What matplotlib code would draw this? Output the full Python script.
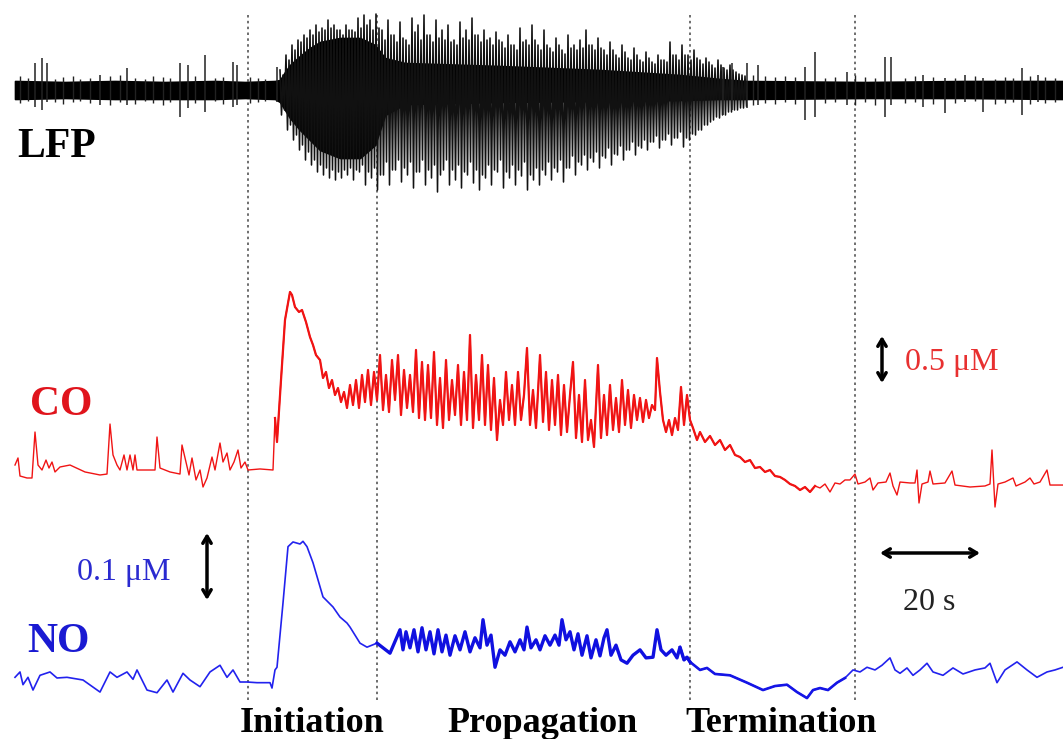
import numpy as np
import matplotlib.pyplot as plt

# time in s, CO / NO in uM, LFP in arbitrary units
co_points = [
    (0, 0.053), (0.6, 0.128), (1, -0.064), (2.4, -0.085), (3.4, -0.085), (4, 0.404),
    (4.6, 0.053), (5.4, 0), (6.2, 0.106), (6.8, 0.021), (7.4, 0.085), (8, -0.021),
    (9, 0.032), (11, 0.053), (14, -0.021), (17, -0.053), (18.4, -0.043), (19, 0.489),
    (19.6, 0.16), (20.4, 0.053), (21, 0), (21.8, 0.16), (22.4, 0), (23, 0.16),
    (23.6, 0), (24, 0.16), (24.4, 0), (26, 0), (28, 0), (28.4, 0.351), (29, 0.021),
    (31, -0.021), (33, -0.043), (33.4, 0.266), (34.2, 0.085), (34.8, -0.053),
    (35.4, 0.128), (36.2, -0.106), (37, 0), (37.6, -0.181), (38.4, -0.085),
    (39.4, 0.138), (40, 0), (41, 0.287), (41.6, 0.085), (42.4, 0.181), (43, 0),
    (43.8, 0.085), (44.6, 0.213), (45.2, 0.021), (46, 0.085), (46.6, 0), (49, 0.011),
    (51.6, 0), (52, 0.553), (52.4, 0.298), (53.2, 0.957), (54, 1.596), (55, 1.894),
    (55.4, 1.862), (56, 1.734), (56.8, 1.681), (57.4, 1.702), (58.2, 1.574),
    (59, 1.415), (59.6, 1.33), (60.2, 1.223), (61, 1.17), (61.6, 0.979), (62.2, 1.043),
    (62.8, 0.872), (63.4, 0.957), (64, 0.798), (64.6, 0.872), (65.2, 0.723),
    (65.8, 0.83), (66.4, 0.66), (67, 0.904), (67.6, 0.691), (68.2, 0.957), (68.8, 0.66),
    (69.4, 1.011), (70, 0.723), (70.6, 1.064), (71.2, 0.691), (71.8, 1.043),
    (72.4, 0.745), (73, 1.223), (73.6, 0.638), (74.2, 1.011), (74.8, 0.617),
    (75.4, 1.17), (76, 0.745), (76.6, 1.223), (77.2, 0.585), (77.8, 1.064), (78.4, 0.66),
    (79, 1.011), (79.6, 0.617), (80.2, 1.277), (80.8, 0.553), (81.4, 1.149), (82, 0.532),
    (82.6, 1.117), (83.2, 0.553), (83.8, 1.255), (84.4, 0.479), (85, 0.979),
    (85.6, 0.447), (86.2, 1.17), (86.8, 0.532), (87.4, 0.957), (88, 0.585),
    (88.6, 1.117), (89.2, 0.479), (89.8, 1.043), (90.4, 0.532), (91, 1.436),
    (91.6, 0.447), (92.2, 1.011), (92.8, 0.532), (93.4, 1.223), (94, 0.479),
    (94.6, 1.117), (95.2, 0.426), (95.8, 0.979), (96.4, 0.319), (97, 0.745),
    (97.6, 0.479), (98.2, 1.043), (98.8, 0.532), (99.4, 0.904), (100, 0.479),
    (100.6, 1.043), (101.2, 0.532), (101.8, 0.798), (102.4, 1.298), (103, 0.479),
    (103.6, 0.851), (104.2, 0.447), (105, 1.223), (105.6, 0.511), (106.2, 1.043),
    (106.8, 0.426), (107.4, 0.957), (108, 0.479), (108.6, 1.011), (109.2, 0.372),
    (109.8, 0.904), (110.4, 0.404), (111, 0.798), (111.6, 1.149), (112.2, 0.34),
    (112.8, 0.798), (113.4, 0.298), (114, 0.957), (114.6, 0.319), (115.2, 0.532),
    (115.8, 0.245), (116.6, 1.117), (117.2, 0.34), (117.8, 0.798), (118.4, 0.372),
    (119, 0.904), (119.6, 0.426), (120.2, 0.766), (120.8, 0.404), (121.4, 0.957),
    (122, 0.479), (122.6, 0.851), (123.2, 0.447), (123.8, 0.798), (124.4, 0.532),
    (125, 0.766), (125.6, 0.511), (126.2, 0.745), (126.8, 0.553), (127.4, 0.691),
    (128, 0.638), (128.4, 1.191), (129, 0.83), (129.6, 0.532), (130.2, 0.404),
    (130.8, 0.532), (131.4, 0.372), (132, 0.553), (132.6, 0.426), (133.2, 0.883),
    (133.8, 0.479), (134.4, 0.798), (135, 0.532), (135.6, 0.447), (136.4, 0.319),
    (137, 0.404), (138, 0.298), (139, 0.362), (140, 0.266), (141, 0.319), (142, 0.213),
    (143, 0.266), (144, 0.16), (145, 0.138), (146, 0.085), (147, 0.106), (148, 0.021),
    (149, 0.032), (150, -0.021), (151, 0), (152, -0.064), (153, -0.074), (154, -0.106),
    (155, -0.149), (156, -0.17), (157, -0.213), (158, -0.181), (159, -0.234),
    (160, -0.17), (161, -0.191), (162, -0.149), (163, -0.234), (164, -0.138),
    (165, -0.149), (166, -0.106), (167, -0.106), (168, -0.043), (168.6, -0.149),
    (170, -0.128), (171, -0.085), (171.6, -0.213), (172.6, -0.138), (174.2, -0.128),
    (175, -0.032), (175.6, -0.17), (176.4, -0.266), (177, -0.128), (179, -0.138),
    (180, -0.138), (180.4, 0), (180.8, -0.351), (181.4, -0.149), (182.6, -0.128),
    (183, -0.011), (183.6, -0.149), (186, -0.138), (187.4, -0.011), (188, -0.16),
    (191, -0.181), (194, -0.17), (195, -0.149), (195.4, 0.213), (196, -0.394),
    (196.6, -0.149), (198, -0.128), (199.6, -0.085), (200.2, -0.17), (202, -0.128),
    (203, -0.085), (203.8, -0.149), (205, -0.128), (206.4, 0), (207, -0.16),
    (209.6, -0.16),
]

no_points = [
    (0, 0.004), (1, 0.012), (1.6, -0.007), (2.6, 0.004), (3.6, -0.015), (5, 0.007),
    (7, 0.012), (8.4, 0.003), (10.4, 0.004), (13.6, 0), (17, -0.018), (19, 0.012),
    (20.4, 0.004), (22.4, 0.012), (23.6, 0.001), (24.4, 0.015), (26.4, -0.015),
    (28.4, -0.019), (30.4, 0), (31.6, -0.018), (33.6, 0.01), (35, 0), (37, -0.01),
    (39, 0.012), (41, 0.022), (42.4, 0.004), (43.6, 0.015), (45, -0.003),
    (46.4, -0.003), (48.4, -0.004), (51, -0.004), (51.4, -0.012), (52, 0.015),
    (52.4, 0.019), (53.6, 0.115), (54.6, 0.199), (55.6, 0.206), (57, 0.203),
    (57.6, 0.207), (58.4, 0.199), (59.6, 0.175), (61.6, 0.124), (63.6, 0.109),
    (65, 0.094), (66.4, 0.085), (67, 0.079), (69, 0.055), (70.4, 0.049), (72.4, 0.055),
    (75, 0.04), (77, 0.075), (77.6, 0.045), (78.2, 0.072), (79, 0.048), (79.8, 0.075),
    (80.6, 0.042), (81.4, 0.078), (82.2, 0.045), (83, 0.072), (83.8, 0.039),
    (84.6, 0.075), (85.4, 0.042), (86.2, 0.067), (87, 0.037), (88, 0.066), (89, 0.045),
    (90, 0.072), (91, 0.042), (92, 0.063), (93, 0.048), (93.6, 0.09), (94.4, 0.052),
    (95.2, 0.067), (96, 0.019), (97, 0.045), (98, 0.037), (99, 0.057), (100, 0.042),
    (101, 0.06), (101.8, 0.045), (102.4, 0.079), (103.2, 0.048), (104.2, 0.06),
    (105, 0.045), (106, 0.066), (107, 0.052), (108, 0.067), (108.8, 0.052),
    (109.4, 0.09), (110.2, 0.06), (111, 0.072), (111.8, 0.045), (112.6, 0.069),
    (113.4, 0.037), (114.4, 0.066), (115.2, 0.033), (116.2, 0.06), (117, 0.036),
    (117.8, 0.063), (118.4, 0.075), (119.2, 0.037), (120.2, 0.052), (121.2, 0.03),
    (122.4, 0.025), (123.6, 0.037), (125, 0.045), (126.2, 0.033), (127.6, 0.034),
    (128.4, 0.075), (129.2, 0.045), (130.2, 0.037), (131.4, 0.045), (132.4, 0.033),
    (133, 0.049), (133.8, 0.03), (134.4, 0.034), (135, 0.027), (137, 0.015),
    (138.4, 0.018), (140, 0.009), (143, 0.007), (146.4, -0.004), (149.6, -0.015),
    (152, -0.009), (154.4, -0.007), (156.4, -0.018), (158.4, -0.027), (159.6, -0.015),
    (161, -0.012), (162.6, -0.015), (164.4, -0.004), (166, 0.003), (167.6, 0.015),
    (169, 0.012), (170.4, 0.019), (172, 0.015), (173.4, 0.022), (175, 0.033),
    (176, 0.015), (177, 0.01), (178.4, 0.018), (179.6, 0.007), (181, 0.015),
    (182.4, 0.025), (183.6, 0.012), (185.6, 0.007), (187.6, 0.018), (189.6, 0.009),
    (192, 0.015), (194, 0.018), (195, 0.025), (196.4, -0.004), (198, 0.015),
    (200.4, 0.027), (202.4, 0.015), (204.4, 0.004), (206.4, 0.012), (208, 0.015),
    (209.6, 0.019),
]

# LFP: solid core band (upper / lower edge)
lfp_env_t = [0, 10, 20, 30, 40, 46, 52, 53, 54, 55, 57, 59, 61, 65, 69, 72, 74,
             78, 97, 117, 133, 141, 146, 170, 190, 209.6]
lfp_env_hi = [0.09, 0.08, 0.09, 0.08, 0.09, 0.08, 0.09, 0.10, 0.18, 0.25, 0.34, 0.42,
              0.48, 0.52, 0.52, 0.45, 0.32, 0.27, 0.24, 0.20, 0.15, 0.11, 0.09, 0.08,
              0.09, 0.09]
lfp_env_lo = [-0.09, -0.08, -0.09, -0.09, -0.09, -0.08, -0.09, -0.12, -0.20, -0.28,
              -0.40, -0.50, -0.60, -0.68, -0.68, -0.55, -0.25, -0.14, -0.12, -0.11,
              -0.10, -0.09, -0.09, -0.08, -0.08, -0.09]

# LFP seizure discharges: two swings every 1.2 s from t = 53 s
burst_start, burst_step = 53.0, 1.2
lfp_burst_hi = [
    0.20, 0.35, 0.45, 0.50, 0.55, 0.60, 0.65, 0.62, 0.70, 0.65,
    0.60, 0.65, 0.60, 0.72, 0.75, 0.70, 0.76, 0.60, 0.70, 0.55,
    0.68, 0.50, 0.72, 0.65, 0.75, 0.55, 0.70, 0.60, 0.65, 0.50,
    0.68, 0.60, 0.72, 0.55, 0.60, 0.52, 0.58, 0.48, 0.55, 0.45,
    0.62, 0.50, 0.65, 0.45, 0.60, 0.42, 0.52, 0.40, 0.55, 0.45,
    0.50, 0.60, 0.45, 0.52, 0.40, 0.48, 0.35, 0.45, 0.32, 0.42,
    0.30, 0.38, 0.28, 0.35, 0.30, 0.48, 0.35, 0.45, 0.35, 0.40,
    0.30, 0.32, 0.25, 0.30, 0.22, 0.25, 0.18, 0.15]
lfp_burst_lo = [
    -0.25, -0.40, -0.50, -0.60, -0.70, -0.75, -0.82, -0.85, -0.88, -0.90,
    -0.88, -0.85, -0.90, -0.82, -0.95, -0.88, -1.00, -0.85, -0.95, -0.80,
    -0.92, -0.85, -0.98, -0.82, -0.95, -0.88, -1.02, -0.80, -0.95, -0.90,
    -0.98, -0.85, -0.93, -1.00, -0.88, -0.95, -0.82, -0.98, -0.88, -0.95,
    -0.86, -1.00, -0.90, -0.95, -0.85, -0.90, -0.82, -0.92, -0.78, -0.85,
    -0.75, -0.80, -0.72, -0.78, -0.68, -0.75, -0.65, -0.70, -0.60, -0.65,
    -0.58, -0.60, -0.52, -0.58, -0.50, -0.55, -0.48, -0.57, -0.50, -0.45,
    -0.40, -0.35, -0.30, -0.28, -0.25, -0.22, -0.20, -0.18]
lfp_burst2_hi = [
    0.15, 0.30, 0.40, 0.48, 0.52, 0.55, 0.58, 0.60, 0.62, 0.60,
    0.55, 0.60, 0.58, 0.62, 0.65, 0.60, 0.62, 0.50, 0.55, 0.48,
    0.52, 0.45, 0.58, 0.50, 0.55, 0.48, 0.52, 0.50, 0.48, 0.45,
    0.52, 0.50, 0.55, 0.48, 0.50, 0.45, 0.50, 0.42, 0.45, 0.40,
    0.48, 0.45, 0.50, 0.40, 0.45, 0.38, 0.45, 0.36, 0.42, 0.40,
    0.42, 0.45, 0.40, 0.42, 0.35, 0.40, 0.32, 0.38, 0.30, 0.35,
    0.28, 0.32, 0.26, 0.30, 0.28, 0.35, 0.30, 0.35, 0.30, 0.32,
    0.26, 0.28, 0.22, 0.25, 0.20, 0.20, 0.16, 0.14]
lfp_burst2_lo = [
    -0.20, -0.35, -0.45, -0.55, -0.62, -0.70, -0.75, -0.78, -0.80, -0.82,
    -0.80, -0.78, -0.80, -0.75, -0.82, -0.78, -0.85, -0.72, -0.80, -0.70,
    -0.78, -0.72, -0.82, -0.70, -0.80, -0.75, -0.85, -0.70, -0.80, -0.75,
    -0.82, -0.72, -0.80, -0.85, -0.75, -0.80, -0.70, -0.82, -0.75, -0.80,
    -0.72, -0.85, -0.78, -0.80, -0.72, -0.78, -0.70, -0.78, -0.66, -0.72,
    -0.65, -0.68, -0.62, -0.66, -0.58, -0.64, -0.56, -0.60, -0.52, -0.56,
    -0.50, -0.52, -0.46, -0.50, -0.44, -0.48, -0.42, -0.48, -0.44, -0.40,
    -0.35, -0.32, -0.27, -0.25, -0.22, -0.20, -0.18, -0.16]

# isolated interictal spikes
spike_t = [4, 5.4, 6.4, 17, 22.4, 33, 34.6, 38, 43.6, 44.4, 52.4, 141.6, 143.4,
           146.4, 148.6, 158, 160, 166.4, 174, 175.2, 181.6, 186, 190, 193.6, 201.4, 204.6]
spike_hi = [0.27, 0.32, 0.27, 0.15, 0.22, 0.27, 0.25, 0.35, 0.28, 0.25, 0.23, 0.23, 0.27,
            0.27, 0.25, 0.23, 0.38, 0.18, 0.33, 0.33, 0.15, 0.12, 0.15, 0.12, 0.22, 0.15]
spike_lo = [-0.17, -0.20, -0.12, -0.15, -0.15, -0.27, -0.18, -0.22, -0.17, -0.15, -0.12,
            -0.25, -0.20, -0.18, -0.15, -0.30, -0.27, -0.15, -0.27, -0.15, -0.17, -0.23,
            -0.12, -0.22, -0.25, -0.12]

# small background ripples on the baseline
ripple_t = [1, 2.5, 8, 9.5, 11.5, 13, 15, 19, 21, 24, 26, 27.5, 29.5, 31, 36, 40, 41.5,
            47, 48.5, 50, 147.5, 150, 152, 154, 156, 162, 164, 168, 170, 172, 178, 180,
            183.5, 188, 192, 196, 198, 199.5, 203, 206, 208]
ripple_hi = [0.14, 0.12, 0.11, 0.13, 0.14, 0.11, 0.12, 0.14, 0.15, 0.12, 0.11, 0.14, 0.13,
             0.12, 0.14, 0.12, 0.13, 0.13, 0.12, 0.11, 0.15, 0.14, 0.13, 0.14, 0.13, 0.12,
             0.13, 0.15, 0.13, 0.12, 0.12, 0.14, 0.13, 0.12, 0.14, 0.11, 0.13, 0.12, 0.14,
             0.13, 0.12]
ripple_lo = [-0.13, -0.11, -0.12, -0.14, -0.12, -0.11, -0.13, -0.15, -0.12, -0.14, -0.11,
             -0.13, -0.15, -0.12, -0.13, -0.11, -0.14, -0.13, -0.12, -0.11, -0.15, -0.13,
             -0.14, -0.12, -0.14, -0.13, -0.12, -0.15, -0.12, -0.15, -0.13, -0.12, -0.14,
             -0.13, -0.11, -0.14, -0.13, -0.12, -0.14, -0.13, -0.12]

phase_bounds = [46.6, 72.4, 135, 168]
phase_names = ['Initiation', 'Propagation', 'Termination']
phase_label_t = [59.4, 105.4, 153.2]

# vertical placement (figure rows) and gain of each trace
lfp_row, lfp_gain = 90, 100
co_row, co_gain = 470, 94      # px per uM
no_row, no_gain = 680, 670     # px per uM

co_t, co_uM = np.array(co_points).T
no_t, no_uM = np.array(no_points).T

fig = plt.figure(figsize=(10.63, 7.39), dpi=100)
ax = fig.add_axes([0, 0, 1, 1])
ax.set_xlim(-3, 209.6)
ax.set_ylim(739, 0)
ax.axis('off')

serif = 'Liberation Serif'

ax.vlines(phase_bounds, 15, 703, colors='#555555', linestyles=(0, (1.5, 2)), lw=1.2, zorder=0)

# LFP
ax.fill_between(lfp_env_t, lfp_row - lfp_gain * np.array(lfp_env_hi),
                lfp_row - lfp_gain * np.array(lfp_env_lo), color='black', lw=1.2, zorder=2)
n = len(lfp_burst_hi)
t0 = burst_start + burst_step * np.arange(n)
q = burst_step / 4
zz_t = np.column_stack([t0, t0 + q, t0 + 2 * q, t0 + 3 * q]).ravel()
zz_v = np.column_stack([lfp_burst_hi, lfp_burst_lo, lfp_burst2_hi, lfp_burst2_lo]).ravel()
ax.plot(zz_t, lfp_row - lfp_gain * zz_v, color='#111111', lw=1.15, zorder=2)
ax.vlines(spike_t, lfp_row - lfp_gain * np.array(spike_hi),
          lfp_row - lfp_gain * np.array(spike_lo), colors='#222222', lw=1.1, zorder=2)
ax.vlines(ripple_t, lfp_row - lfp_gain * np.array(ripple_hi),
          lfp_row - lfp_gain * np.array(ripple_lo), colors='#222222', lw=1.0, zorder=2)

# CO and NO, drawn heavier through the seizure where the record is dense
co_y = co_row - co_gain * co_uM
no_y = no_row - no_gain * no_uM
ax.plot(co_t, co_y, color='#f01414', lw=1.0, zorder=2)
m = (co_t >= 52) & (co_t <= 160)
ax.plot(co_t[m], co_y[m], color='#f01414', lw=1.6, zorder=2)
ax.plot(no_t, no_y, color='#2222ee', lw=1.2, zorder=2)
m = (no_t >= 133) & (no_t <= 166)
ax.plot(no_t[m], no_y[m], color='#1515e6', lw=1.9, zorder=2)
m = (no_t >= 72) & (no_t <= 135)
ax.plot(no_t[m], no_y[m], color='#1010e0', lw=2.4, zorder=2)

# trace labels
ax.text(0.4, 157, 'LFP', fontsize=30, fontweight='bold', family=serif, color='black', va='baseline')
ax.text(3.0, 415, 'CO', fontsize=30, fontweight='bold', family=serif, color='#e0141c', va='baseline')
ax.text(2.4, 652, 'NO', fontsize=30, fontweight='bold', family=serif, color='#1a1ad2', va='baseline')

for t, name in zip(phase_label_t, phase_names):
    ax.text(t, 732, name, fontsize=26, fontweight='bold', family=serif, ha='center', va='baseline')

# scale bars
arrow = dict(arrowstyle='<->,head_length=0.5,head_width=0.3', lw=2.5, color='black',
             shrinkA=0, shrinkB=0)
ax.annotate('', xy=(173.4, 383 - 0.5 * co_gain), xytext=(173.4, 383), arrowprops=arrow)
ax.text(178, 370, '0.5 \u03bcM', fontsize=23, family=serif, color='#e83030', va='baseline')
ax.annotate('', xy=(38.4, 600 - 0.1 * no_gain), xytext=(38.4, 600), arrowprops=arrow)
ax.text(12.4, 580, '0.1 \u03bcM', fontsize=23, family=serif, color='#2a2ad0', va='baseline')
ax.annotate('', xy=(173, 553), xytext=(193, 553), arrowprops=arrow)
ax.text(177.6, 610, '20 s', fontsize=23, family=serif, color='#222222', va='baseline')

fig.savefig('out.png', dpi=100)
